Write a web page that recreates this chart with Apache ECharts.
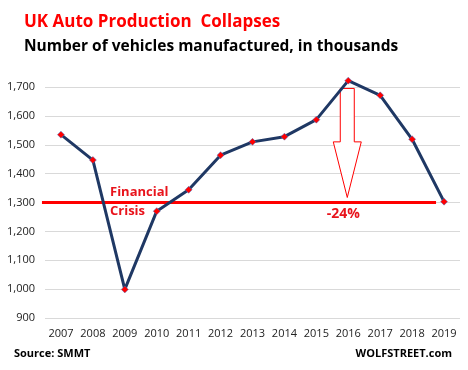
<!DOCTYPE html>
<html><head><meta charset="utf-8">
<script src="https://cdn.jsdelivr.net/npm/echarts@6/dist/echarts.min.js"></script>
<style>html,body{margin:0;padding:0;background:#fff}#c{width:468px;height:370px}</style>
</head><body><div id="c"></div>
<script>
const years = ['2007','2008','2009','2010','2011','2012','2013','2014','2015','2016','2017','2018','2019'];
const production = [1535, 1447, 999, 1270, 1344, 1464, 1510, 1528, 1587, 1722, 1671, 1519, 1303];
const yTicks = [900, 1000, 1100, 1200, 1300, 1400, 1500, 1600, 1700];
const crisisLevel = 1300;
const arrowTop = 1695;

const F = 'Open Sans, Liberation Sans, sans-serif';
const chart = echarts.init(document.getElementById('c'));
chart.setOption({
  animation: false,
  grid: {left: 45, right: 8, top: 87, bottom: 52, containLabel: false},
  title: [
    {text: 'UK Auto Production  Collapses', left: 19, top: 9, textStyle: {color: '#ff0000', fontSize: 17, fontWeight: 'bold', fontFamily: F}},
    {text: 'Number of vehicles manufactured, in thousands', left: 19, top: 34, textStyle: {color: '#000', fontSize: 15.5, fontWeight: 'bold', fontFamily: F}}
  ],
  xAxis: {
    type: 'category', data: years, boundaryGap: true,
    axisLine: {show: false}, axisTick: {show: false},
    axisLabel: {color: '#222', fontSize: 11, fontFamily: F, margin: 10, interval: 0}
  },
  yAxis: {
    type: 'value', min: yTicks[0], max: yTicks[yTicks.length - 1], interval: 100,
    axisLine: {show: false}, axisTick: {show: false},
    axisLabel: {color: '#222', fontSize: 11, fontFamily: F, margin: 10,
      formatter: v => v.toLocaleString('en-US')},
    splitLine: {lineStyle: {color: '#d9d9d9', width: 1}}
  },
  series: [{
    type: 'line', data: production, clip: false,
    lineStyle: {color: '#1f3864', width: 3},
    symbol: 'diamond', symbolSize: 7,
    itemStyle: {color: '#ff0000', borderColor: '#4472c4', borderWidth: 0.5},
    z: 3
  }]
});

function drawAnnotations() {
  const yC = chart.convertToPixel({yAxisIndex: 0}, crisisLevel);
  const xFirst = chart.convertToPixel({xAxisIndex: 0}, years[0]);
  const xLast = chart.convertToPixel({xAxisIndex: 0}, years[years.length - 1]);
  const xA = chart.convertToPixel({xAxisIndex: 0}, '2016');
  const yTop = chart.convertToPixel({yAxisIndex: 0}, arrowTop);
  const yShaft = chart.convertToPixel({yAxisIndex: 0}, 1510);
  const yTip = yC - 5;
  const ax = xA - 1;
  chart.setOption({
    graphic: [
      {type: 'line', shape: {x1: xFirst - 19, y1: yC, x2: xLast - 8, y2: yC},
       style: {stroke: '#ff0000', lineWidth: 3}, z: 2},
      {type: 'polygon', shape: {points: [
        [ax - 7, yTop], [ax + 7, yTop], [ax + 7, yShaft], [ax + 14, yShaft],
        [ax, yTip], [ax - 14, yShaft], [ax - 7, yShaft]]},
       style: {fill: '#fff', stroke: '#ff0000', lineWidth: 1}, z: 1},
      {type: 'text', left: 110, top: yC - 17, style: {text: 'Financial', fill: '#e8141c', font: 'bold 13px ' + F}, z: 10},
      {type: 'text', left: 110, top: yC + 2, style: {text: 'Crisis', fill: '#e8141c', font: 'bold 13px ' + F}, z: 10},
      {type: 'text', x: ax - 4, y: yC + 12, style: {text: '-24%', fill: '#e8141c', font: 'bold 14px ' + F, align: 'center', verticalAlign: 'middle'}, z: 10},
      {type: 'text', left: 14, top: 348, style: {text: 'Source: SMMT', fill: '#000', font: 'bold 11px ' + F}},
      {type: 'text', right: 16, top: 348, style: {text: 'WOLFSTREET.com', fill: '#000', font: 'bold 11px ' + F}}
    ]
  });
}
drawAnnotations();
</script></body></html>
